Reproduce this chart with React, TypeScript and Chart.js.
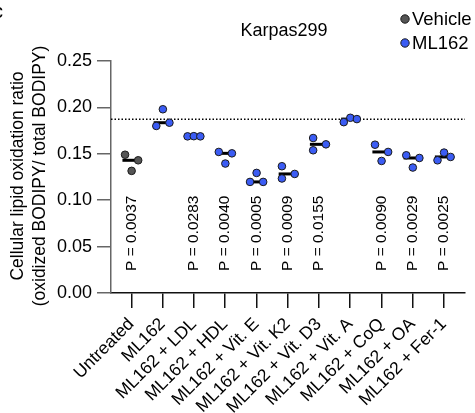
import React, { useEffect, useRef } from "react";
import { Chart, registerables } from "chart.js";

Chart.register(...registerables);

// ---------- data ----------
const categories = [
  "Untreated",
  "ML162",
  "ML162 + LDL",
  "ML162 + HDL",
  "ML162 + Vit. E",
  "ML162 + Vit. K2",
  "ML162 + Vit. D3",
  "ML162 + Vit. A",
  "ML162 + CoQ",
  "ML162 + OA",
  "ML162 + Fer-1",
];
const groupOf = ["Vehicle", "ML162", "ML162", "ML162", "ML162", "ML162", "ML162", "ML162", "ML162", "ML162", "ML162"];
const replicate1 = [0.149, 0.18, 0.1688, 0.152, 0.1197, 0.1366, 0.167, 0.1841, 0.1598, 0.1484, 0.143];
const replicate2 = [0.1316, 0.198, 0.169, 0.1395, 0.1294, 0.1234, 0.1538, 0.1888, 0.1423, 0.1352, 0.1513];
const replicate3 = [0.143, 0.1835, 0.1688, 0.1505, 0.1197, 0.1283, 0.1602, 0.1874, 0.152, 0.1455, 0.1466];
const pValues = ["0.0037", null, "0.0283", "0.0040", "0.0005", "0.0009", "0.0155", null, "0.0090", "0.0029", "0.0025"];
const yTicks = [0, 0.05, 0.1, 0.15, 0.2, 0.25];
const legendLabels = ["Vehicle", "ML162"];
const chartTitle = "Karpas299";
const yTitle = ["Cellular lipid oxidation ratio", "(oxidized BODIPY/ total BODIPY)"];
const referenceGroup = "ML162"; // dotted line = mean of ML162 alone

// ---------- layout / style ----------
const jitter1 = [-0.2, -0.2, -0.2, -0.2, -0.2, -0.18, -0.18, -0.2, -0.2, -0.2, -0.2];
const jitter2 = [0.01, 0.01, 0.0, 0.01, 0.01, -0.18, -0.18, 0.01, 0.01, 0.01, 0.01];
const jitter3 = [0.22, 0.22, 0.21, 0.22, 0.22, 0.23, 0.23, 0.22, 0.22, 0.22, 0.22];
const colors: Record<string, string> = { Vehicle: "#555555", ML162: "#3b5cf4" };
const FONT = "'Liberation Sans', Arial, Helvetica, sans-serif";
const X_MIN = -0.65;
const X_MAX = 10.68;

const median = (a: number[]) => {
  const s = [...a].sort((p, q) => p - q);
  return s[Math.floor(s.length / 2)];
};

function pointsFor(group: string) {
  const pts: { x: number; y: number }[] = [];
  categories.forEach((_, i) => {
    if (groupOf[i] !== group) return;
    pts.push({ x: i + jitter1[i], y: replicate1[i] });
    pts.push({ x: i + jitter2[i], y: replicate2[i] });
    pts.push({ x: i + jitter3[i], y: replicate3[i] });
  });
  return pts;
}

export default function App() {
  const ref = useRef<HTMLCanvasElement | null>(null);

  useEffect(() => {
    if (!ref.current) return;
    Chart.defaults.font.family = FONT;

    const refIdx = categories.indexOf(referenceGroup);
    const refValue = (replicate1[refIdx] + replicate2[refIdx] + replicate3[refIdx]) / 3;

    const medians = categories.map((_, i) => ({
      x: i - 0.06,
      y: median([replicate1[i], replicate2[i], replicate3[i]]),
    }));

    const textPlugin = {
      id: "texts",
      afterDraw(chart: any) {
        const ctx = chart.ctx as CanvasRenderingContext2D;
        const xs = chart.scales.x;
        const ys = chart.scales.y;
        ctx.save();
        ctx.fillStyle = "#000";
        // title
        ctx.font = `18px ${FONT}`;
        ctx.textAlign = "center";
        ctx.textBaseline = "middle";
        ctx.fillText(chartTitle, 284, 31);
        // panel letter (cut off)
        ctx.font = `20px ${FONT}`;
        ctx.textAlign = "left";
        ctx.fillText("c", -7, 12);
        // legend
        legendLabels.forEach((lab, k) => {
          const cy = 19 + k * 24;
          ctx.beginPath();
          ctx.arc(405, cy, 4.2, 0, Math.PI * 2);
          ctx.fillStyle = colors[lab];
          ctx.fill();
          ctx.lineWidth = 1;
          ctx.strokeStyle = "#1a1a1a";
          ctx.stroke();
          ctx.fillStyle = "#000";
          ctx.font = `18.5px ${FONT}`;
          ctx.textAlign = "left";
          ctx.textBaseline = "middle";
          ctx.fillText(lab, 412, cy + 1);
        });
        // y title
        ctx.save();
        ctx.translate(0, (chart.chartArea.top + chart.chartArea.bottom) / 2 - 1);
        ctx.rotate(-Math.PI / 2);
        ctx.font = `17.5px ${FONT}`;
        ctx.textAlign = "center";
        ctx.textBaseline = "middle";
        ctx.fillText(yTitle[0], 0, 18);
        ctx.fillText(yTitle[1], 0, 40);
        ctx.restore();
        // p-values
        ctx.font = `15.5px ${FONT}`;
        pValues.forEach((p, i) => {
          if (!p) return;
          const px = xs.getPixelForValue(i);
          const py = ys.getPixelForValue(0) - 22;
          ctx.save();
          ctx.translate(px, py);
          ctx.rotate(-Math.PI / 2);
          ctx.textAlign = "left";
          ctx.textBaseline = "middle";
          ctx.fillText(`P = ${p}`, 0, 0);
          ctx.restore();
        });
        ctx.restore();
      },
    };

    const chart = new Chart(ref.current, {
      type: "scatter",
      data: {
        datasets: [
          ...legendLabels.map((g) => ({
            label: g,
            data: pointsFor(g),
            backgroundColor: colors[g],
            borderColor: "#1a1a1a",
            borderWidth: 1,
            pointRadius: 3.8,
            order: 0,
          })),
          {
            label: "median",
            data: medians,
            pointStyle: "line",
            pointRadius: 7,
            borderColor: "#000",
            backgroundColor: "#000",
            borderWidth: 3,
            order: 1,
          },
          {
            type: "line",
            label: "reference",
            data: [
              { x: X_MIN, y: refValue },
              { x: X_MAX, y: refValue },
            ],
            borderColor: "#000",
            borderWidth: 1.5,
            borderDash: [1.5, 2],
            pointRadius: 0,
            showLine: true,
            order: 2,
          },
        ] as any,
      },
      options: {
        responsive: false,
        animation: false,
        events: [],
        layout: { padding: { top: 61, right: 7, left: 0, bottom: 0 } },
        plugins: {
          legend: { display: false },
          title: { display: false },
          tooltip: { enabled: false },
        },
        scales: {
          x: {
            type: "linear",
            min: X_MIN,
            max: X_MAX,
            afterBuildTicks: (s: any) => {
              s.ticks = categories.map((_, i) => ({ value: i }));
            },
            afterFit: (s: any) => {
              s.height = 120;
            },
            ticks: {
              autoSkip: false,
              maxRotation: 45,
              minRotation: 45,
              padding: 6,
              color: "#000",
              font: { size: 17.5, family: FONT },
              callback: (v: any) => categories[v as number],
            },
            grid: { drawOnChartArea: false, tickLength: 15, color: "#111", lineWidth: 1.5 },
            border: { color: "#111", width: 1.5 },
          },
          y: {
            min: 0,
            max: 0.25,
            afterBuildTicks: (s: any) => {
              s.ticks = yTicks.map((v) => ({ value: v }));
            },
            afterFit: (s: any) => {
              s.width = 111;
            },
            ticks: {
              padding: 5,
              color: "#000",
              font: { size: 18, family: FONT },
              callback: (v: any) => Number(v).toFixed(2),
            },
            grid: { drawOnChartArea: false, tickLength: 14, color: "#666", lineWidth: 1.5 },
            border: { color: "#666", width: 1.5 },
          },
        },
      } as any,
      plugins: [textPlugin],
    });
    return () => chart.destroy();
  }, []);

  return (
    <div style={{ position: "fixed", left: 0, top: 0, width: 475, height: 413, background: "#fff" }}>
      <canvas ref={ref} width={475} height={413} style={{ display: "block" }} />
    </div>
  );
}
